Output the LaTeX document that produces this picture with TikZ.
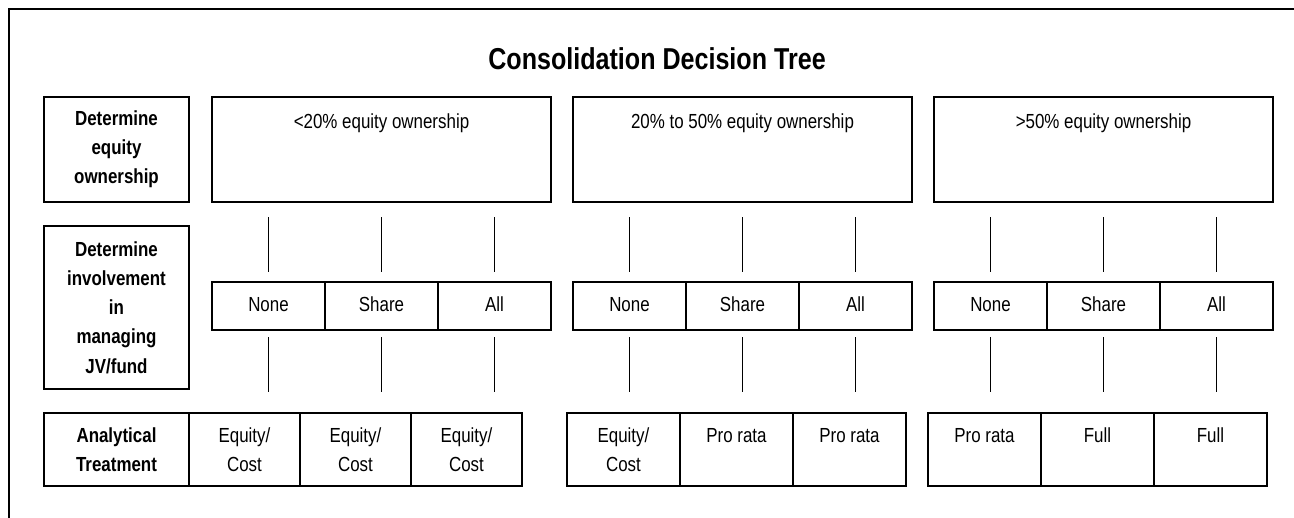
\documentclass[tikz,border=0pt]{standalone}
\usepackage{fontspec}
\setmainfont{Liberation Sans}[FakeStretch=0.83]
\usetikzlibrary{positioning}

\tikzset{
  txt/.style={font=\fontsize{11.6}{16.2}\selectfont, align=center},
  labelbox/.style={draw, line width=1.1pt, txt, font=\fontsize{11.6}{16.6}\selectfont\bfseries,
    minimum width=2.9cm, inner sep=0pt, outer sep=0pt},
  ownbox/.style={draw, line width=1.1pt, txt, minimum width=6.78cm, minimum height=2.1cm,
    inner sep=0pt, outer sep=0pt},
  cell/.style={draw, line width=1.1pt, txt, minimum width=2.26cm, minimum height=0.96cm,
    inner sep=0pt, outer sep=0pt, execute at begin node=\strut},
  resbox/.style={draw, line width=1.1pt, txt, minimum width=2.26cm, minimum height=1.46cm,
    inner sep=0pt, outer sep=0pt},
  uplink/.style={line width=0.8pt, shorten <=0.3cm, shorten >=0.2cm},
  lowlink/.style={line width=0.8pt, shorten <=0.14cm, shorten >=0.42cm},
  outerframe/.style={line width=1.3pt}
}

\begin{document}
\begin{tikzpicture}
  \useasboundingbox (0,0) rectangle (25.88,-10.36);

  % frame and title
  \draw[outerframe] (0.18,-10.36) -- (0.18,-0.18) -- (25.88,-0.18);
  \node[anchor=base, font=\fontsize{17.2}{20}\selectfont\bfseries] (title) at (13.14,-1.38)
    {Consolidation Decision Tree};

  % row labels on the left
  \node[labelbox, minimum height=2.1cm] (lab1) at (2.33,-2.99) {Determine\\equity\\ownership};
  \node[labelbox, minimum height=3.26cm] (lab2) at (2.33,-6.15)
    {Determine\\involvement\\in\\managing\\JV/fund};
  \node[labelbox, minimum height=1.46cm] (lab3) at (2.33,-8.99) {Analytical\\Treatment};

  % equity ownership boxes
  \node[ownbox] (own1) at (7.63,-2.99) {<20\% equity ownership\\~\\~};
  \node[ownbox] (own2) at (14.85,-2.99) {20\% to 50\% equity ownership\\~\\~};
  \node[ownbox] (own3) at (22.07,-2.99) {>50\% equity ownership\\~\\~};

  % involvement in managing
  \node[cell] (c11) at (5.37,-6.12) {None};
  \node[cell, right=0pt of c11] (c12) {Share};
  \node[cell, right=0pt of c12] (c13) {All};

  \node[cell] (c21) at (12.59,-6.12) {None};
  \node[cell, right=0pt of c21] (c22) {Share};
  \node[cell, right=0pt of c22] (c23) {All};

  \node[cell] (c31) at (19.81,-6.12) {None};
  \node[cell, right=0pt of c31] (c32) {Share};
  \node[cell, right=0pt of c32] (c33) {All};

  % analytical treatment
  \node[resbox, minimum width=2.22cm, right=0pt of lab3] (r11) {Equity/\\Cost};
  \node[resbox, minimum width=2.22cm, right=0pt of r11] (r12) {Equity/\\Cost};
  \node[resbox, minimum width=2.22cm, right=0pt of r12] (r13) {Equity/\\Cost};

  \node[resbox] (r21) at (12.47,-8.99) {Equity/\\Cost};
  \node[resbox, right=0pt of r21] (r22) {Pro rata\\~};
  \node[resbox, right=0pt of r22] (r23) {Pro rata\\~};

  \node[resbox] (r31) at (19.69,-8.99) {Pro rata\\~};
  \node[resbox, right=0pt of r31] (r32) {Full\\~};
  \node[resbox, right=0pt of r32] (r33) {Full\\~};

  % lines from ownership to involvement
  \draw[uplink] (c11.north |- own1.south) -- (c11.north);
  \draw[uplink] (c12.north |- own1.south) -- (c12.north);
  \draw[uplink] (c13.north |- own1.south) -- (c13.north);
  \draw[uplink] (c21.north |- own2.south) -- (c21.north);
  \draw[uplink] (c22.north |- own2.south) -- (c22.north);
  \draw[uplink] (c23.north |- own2.south) -- (c23.north);
  \draw[uplink] (c31.north |- own3.south) -- (c31.north);
  \draw[uplink] (c32.north |- own3.south) -- (c32.north);
  \draw[uplink] (c33.north |- own3.south) -- (c33.north);

  % lines from involvement to treatment
  \draw[lowlink] (c11.south) -- (c11.south |- r11.north);
  \draw[lowlink] (c12.south) -- (c12.south |- r12.north);
  \draw[lowlink] (c13.south) -- (c13.south |- r13.north);
  \draw[lowlink] (c21.south) -- (c21.south |- r21.north);
  \draw[lowlink] (c22.south) -- (c22.south |- r22.north);
  \draw[lowlink] (c23.south) -- (c23.south |- r23.north);
  \draw[lowlink] (c31.south) -- (c31.south |- r31.north);
  \draw[lowlink] (c32.south) -- (c32.south |- r32.north);
  \draw[lowlink] (c33.south) -- (c33.south |- r33.north);
\end{tikzpicture}
\end{document}
